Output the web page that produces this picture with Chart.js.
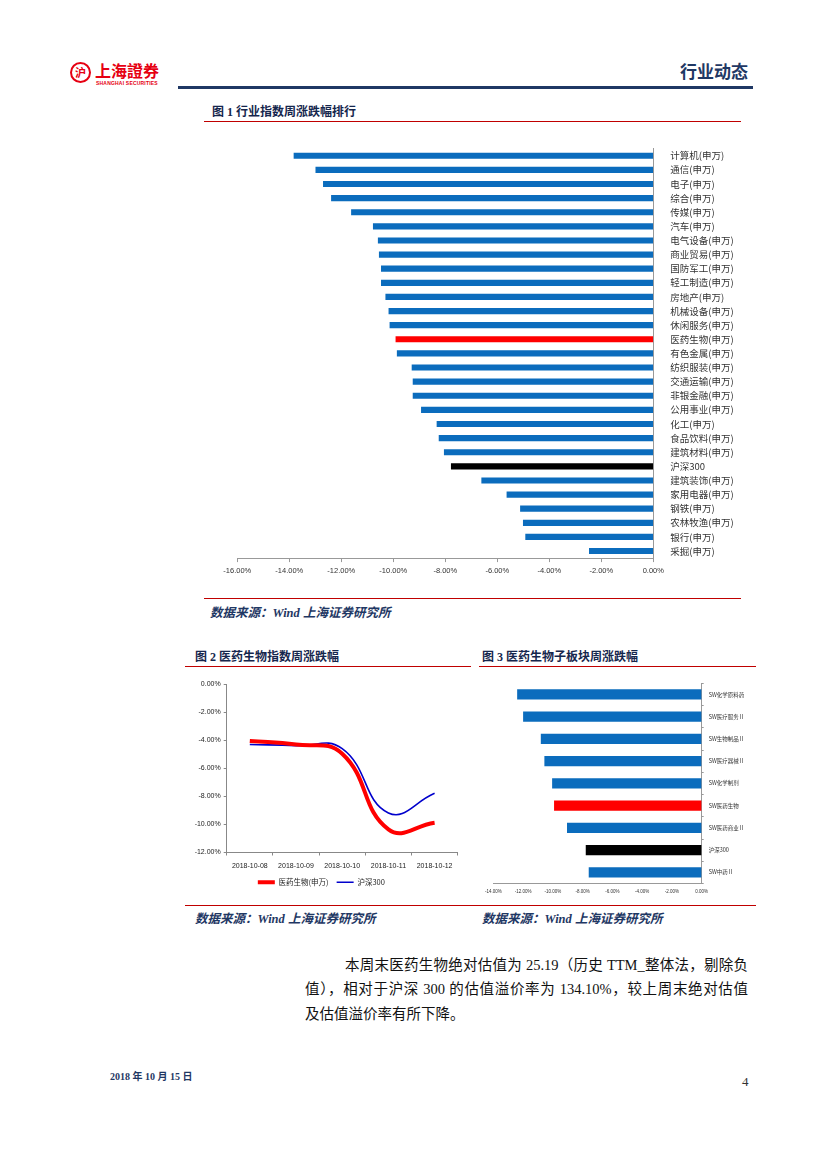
<!DOCTYPE html>
<html><head><meta charset="utf-8">
<script src="https://cdn.jsdelivr.net/npm/chart.js@4.4.0/dist/chart.umd.min.js"></script>
<style>
html,body{margin:0;padding:0;background:#fff;}
body{width:827px;height:1169px;position:relative;overflow:hidden;font-family:"Liberation Serif","Noto Sans CJK SC",serif;}
.abs{position:absolute;white-space:nowrap;}
.logo-circle{left:70px;top:62px;width:17px;height:17px;border:2.5px solid #e60012;border-radius:50%;color:#e60012;font:bold 11px "Noto Sans CJK SC";text-align:center;line-height:17px;}
.logo-text{left:95px;top:58px;font:bold 16px "Noto Sans CJK SC";color:#e60012;}
.logo-en{left:96px;top:80px;font:bold 5px "Liberation Sans";color:#e60012;letter-spacing:0.2px;}
.hdr{left:680px;top:58px;font:bold 17px "Noto Sans CJK SC";color:#1f3864;}
.hline{left:178px;top:86px;width:575px;height:3px;background:#1f3864;}
.ttl{font:bold 12px "Liberation Serif","Noto Sans CJK SC";color:#15264d;}
.rline{height:1px;background:#c00000;}
.src{font:italic bold 12.5px "Liberation Serif","Noto Sans CJK SC";color:#1f3864;}
.para{font-size:14.5px;color:#111;text-align:justify;text-align-last:justify;white-space:normal;}
canvas{position:absolute;}
</style></head><body>

<div class="abs logo-circle">沪</div>
<div class="abs logo-text">上海證券</div>
<div class="abs logo-en">SHANGHAI SECURITIES</div>
<div class="abs hdr">行业动态</div>
<div class="abs hline"></div>

<div class="abs ttl" style="left:212px;top:102px;">图 1 行业指数周涨跌幅排行</div>
<div class="abs rline" style="left:204px;top:121px;width:537px;"></div>
<canvas id="c1" width="560" height="456" style="left:200px;top:134px;"></canvas>
<div class="abs rline" style="left:204px;top:598px;width:537px;"></div>
<div class="abs src" style="left:210px;top:602px;">数据来源：Wind 上海证券研究所</div>

<div class="abs ttl" style="left:195px;top:647px;">图 2 医药生物指数周涨跌幅</div>
<div class="abs rline" style="left:185px;top:666px;width:286px;"></div>
<div class="abs ttl" style="left:482px;top:647px;">图 3 医药生物子板块周涨跌幅</div>
<div class="abs rline" style="left:479px;top:666px;width:277px;"></div>
<canvas id="c2" width="285" height="225" style="left:185px;top:672px;"></canvas>
<canvas id="c3" width="283" height="225" style="left:479px;top:675px;"></canvas>
<div class="abs rline" style="left:185px;top:905px;width:571px;"></div>
<div class="abs src" style="left:195px;top:908px;">数据来源：Wind 上海证券研究所</div>
<div class="abs src" style="left:482px;top:908px;">数据来源：Wind 上海证券研究所</div>

<div class="abs para" style="left:345px;top:953px;width:403px;">本周末医药生物绝对估值为 25.19（历史 TTM_整体法，剔除负</div>
<div class="abs para" style="left:305px;top:977px;width:443px;">值），相对于沪深 300 的估值溢价率为 134.10%，较上周末绝对估值</div>
<div class="abs" style="left:305px;top:1002px;font-size:14.5px;color:#111;">及估值溢价率有所下降。</div>

<div class="abs" style="left:110px;top:1068px;font:bold 10px 'Liberation Serif','Noto Sans CJK SC';color:#1f3864;">2018 年 10 月 15 日</div>
<div class="abs" style="left:742px;top:1074px;font:13px 'Liberation Serif';color:#333;">4</div>

<script>
// ---------- Figure 1 data ----------
const industryLabels = ['计算机(申万)','通信(申万)','电子(申万)','综合(申万)','传媒(申万)','汽车(申万)','电气设备(申万)','商业贸易(申万)','国防军工(申万)','轻工制造(申万)','房地产(申万)','机械设备(申万)','休闲服务(申万)','医药生物(申万)','有色金属(申万)','纺织服装(申万)','交通运输(申万)','非银金融(申万)','公用事业(申万)','化工(申万)','食品饮料(申万)','建筑材料(申万)','沪深300','建筑装饰(申万)','家用电器(申万)','钢铁(申万)','农林牧渔(申万)','银行(申万)','采掘(申万)'];
const industryValues = [-13.82,-12.98,-12.69,-12.38,-11.61,-10.77,-10.58,-10.54,-10.46,-10.46,-10.29,-10.17,-10.13,-9.90,-9.85,-9.28,-9.24,-9.24,-8.92,-8.32,-8.24,-8.04,-7.77,-6.60,-5.63,-5.11,-5.00,-4.91,-2.46];

// ---------- Figure 2 data ----------
const dates = ['2018-10-08','2018-10-09','2018-10-10','2018-10-11','2018-10-12'];
const seriesNames = ['医药生物(申万)','沪深300'];
const pharmaIndex = [-4.05,-4.29,-4.95,-10.35,-9.88];
const hs300Index = [-4.29,-4.38,-4.59,-9.18,-7.78];

// ---------- Figure 3 data ----------
const subLabels = ['SW化学原料药','SW医疗服务Ⅱ','SW生物制品Ⅱ','SW医疗器械Ⅱ','SW化学制剂','SW医药生物','SW医药商业Ⅱ','沪深300','SW中药Ⅱ'];
const subValues = [-12.38,-11.98,-10.79,-10.55,-10.03,-9.90,-9.03,-7.77,-7.57];

const BLUE = '#0b6cbd', RED = '#ff0000', BLACK = '#000000';
const colorFor = l => (l === '医药生物(申万)' || l === 'SW医药生物') ? RED : (l === '沪深300' ? BLACK : BLUE);
const pct = v => Number(v).toFixed(2) + '%';
const CJK = '"Noto Sans CJK SC","Liberation Sans",sans-serif';
const LAT = '"Liberation Sans","Noto Sans CJK SC",sans-serif';
Chart.defaults.animation = false;
Chart.defaults.color = '#333';

// Figure 1
new Chart(document.getElementById('c1'), {
  type: 'bar',
  data: { labels: industryLabels, datasets: [{ data: industryValues,
    backgroundColor: ctx => colorFor(industryLabels[ctx.dataIndex]), barThickness: 5.5 }] },
  options: {
    responsive: false, indexAxis: 'y',
    layout: { padding: { left: 37.3, top: 13.9, right: 0, bottom: 0 } },
    plugins: { legend: { display: false }, tooltip: { enabled: false } },
    scales: {
      x: { min: -16, max: 0, afterFit: s => { s.height = 31.9; },
        ticks: { stepSize: 2, callback: pct, font: { family: LAT, size: 7.5 }, color: '#333', padding: 4 },
        grid: { drawOnChartArea: false, drawTicks: true, tickLength: 4, color: '#999' },
        border: { color: '#999' } },
      y: { position: 'right', afterFit: s => { s.width = 106.7; },
        ticks: { font: { family: CJK, size: 9.5 }, color: '#333', padding: 9, autoSkip: false },
        grid: { display: false }, border: { color: '#999' } }
    }
  }
});

// Figure 2
new Chart(document.getElementById('c2'), {
  type: 'line',
  data: { labels: dates, datasets: [
    { label: seriesNames[0], data: pharmaIndex, borderColor: RED, backgroundColor: RED, borderWidth: 4, pointRadius: 0, tension: 0.45, pointStyle: 'line' },
    { label: seriesNames[1], data: hs300Index, borderColor: '#0000cc', backgroundColor: '#0000cc', borderWidth: 1.6, pointRadius: 0, tension: 0.45, pointStyle: 'line' }
  ] },
  options: {
    responsive: false,
    layout: { padding: { left: 0, top: 12.3, right: 12.3, bottom: 1 } },
    plugins: { tooltip: { enabled: false },
      legend: { position: 'bottom', labels: { usePointStyle: true, pointStyleWidth: 17, boxHeight: 6, padding: 8,
        font: { family: CJK, size: 7.5 }, color: '#222' } } },
    scales: {
      x: { offset: true, afterFit: s => { s.height = 18; },
        ticks: { font: { family: LAT, size: 7 }, color: '#222', padding: 6, maxRotation: 0 },
        grid: { offset: true, drawOnChartArea: false, drawTicks: true, tickLength: 3, color: '#888' },
        border: { color: '#888' } },
      y: { min: -12, max: 0, afterFit: s => { s.width = 41.7; },
        ticks: { stepSize: 2, callback: pct, font: { family: LAT, size: 7 }, color: '#222', padding: 3 },
        grid: { drawOnChartArea: false, drawTicks: true, tickLength: 3, color: '#888' },
        border: { color: '#888' } }
    }
  }
});

// Figure 3
new Chart(document.getElementById('c3'), {
  type: 'bar',
  data: { labels: subLabels, datasets: [{ data: subValues,
    backgroundColor: ctx => colorFor(subLabels[ctx.dataIndex]), barThickness: 9.5 }] },
  options: {
    responsive: false, indexAxis: 'y',
    layout: { padding: { left: 6.3, top: 7.1, right: 0, bottom: 0 } },
    plugins: { legend: { display: false }, tooltip: { enabled: false } },
    scales: {
      x: { min: -14, max: 0, afterFit: s => { s.height = 16.5; },
        ticks: { stepSize: 2, callback: pct, font: { family: LAT, size: 4.5 }, color: '#333', padding: 6, maxRotation: 0 },
        grid: { drawOnChartArea: false, drawTicks: false },
        border: { color: '#999' } },
      y: { position: 'right', afterFit: s => { s.width = 60.3; },
        ticks: { font: { family: CJK, size: 5.5 }, color: '#333', padding: 5, autoSkip: false },
        grid: { offset: true, drawOnChartArea: false, drawTicks: true, tickLength: 2, color: '#999' },
        border: { color: '#999' } }
    }
  }
});
</script>
</body></html>
